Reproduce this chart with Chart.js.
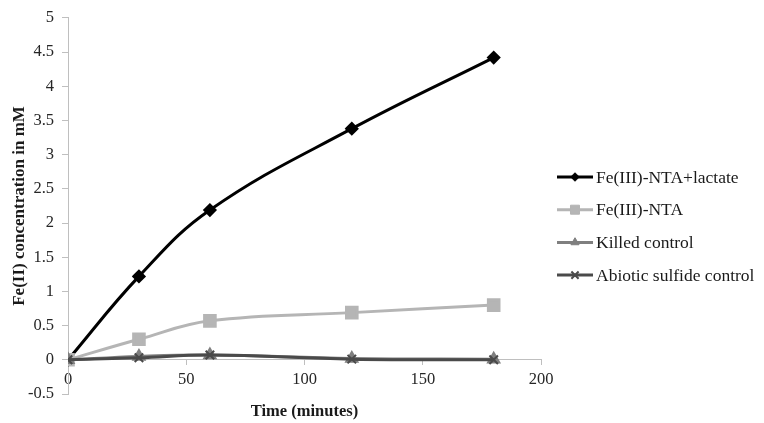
<!DOCTYPE html>
<html lang="en">
<head>
    <meta charset="UTF-8">
    <title>Fe(II) concentration over time</title>
    <script src="https://cdn.jsdelivr.net/npm/chart.js"></script>
    <style>
        body {
            margin: 0;
            padding: 0;
            background-color: #ffffff;
        }

        .chart-box {
            width: 764px;
            height: 423px;
        }
    </style>
</head>
<body>

    <div class="chart-box">
        <canvas id="ironChart"></canvas>
    </div>

    <script>
        // Sample times (minutes)
        const times = [0, 30, 60, 120, 180];

        // Fe(II) concentration in mM, per treatment
        const lactateValues = [0, 1.22, 2.19, 3.38, 4.42];
        const ntaValues = [0, 0.30, 0.57, 0.69, 0.80];
        const killedValues = [0, 0.05, 0.07, 0.02, 0.01];
        const abioticValues = [0, 0.03, 0.07, 0.01, 0];

        const seriesNames = ['Fe(III)-NTA+lactate', 'Fe(III)-NTA', 'Killed control', 'Abiotic sulfide control'];

        // Axis ticks
        const xTicks = [0, 50, 100, 150, 200];
        const yTicks = [-0.5, 0, 0.5, 1, 1.5, 2, 2.5, 3, 3.5, 4, 4.5, 5];

        const serif = '"Liberation Serif", "Times New Roman", serif';

        function toPoints(values) {
            return times.map((t, i) => ({ x: t, y: values[i] }));
        }

        // Legend drawn on the right: line + marker, like the spreadsheet legend
        const sideLegend = {
            id: 'sideLegend',
            afterDraw(chart) {
                const ctx = chart.ctx;
                const x0 = 557;
                const top = 177;
                const step = 32.7;
                ctx.save();
                chart.data.datasets.forEach((ds, i) => {
                    const y = top + i * step;
                    ctx.strokeStyle = ds.borderColor;
                    ctx.lineWidth = 3;
                    ctx.beginPath();
                    ctx.moveTo(x0, y);
                    ctx.lineTo(x0 + 36, y);
                    ctx.stroke();
                    ctx.fillStyle = ds.backgroundColor;
                    ctx.lineWidth = ds.pointBorderWidth || 1;
                    Chart.helpers.drawPoint(ctx, {
                        pointStyle: ds.pointStyle,
                        radius: ds.pointRadius * 0.85,
                        borderWidth: ds.pointBorderWidth || 1
                    }, x0 + 18, y);
                    ctx.fillStyle = '#1a1a1a';
                    ctx.font = '17.5px ' + serif;
                    ctx.textAlign = 'left';
                    ctx.textBaseline = 'middle';
                    ctx.fillText(ds.label, x0 + 39, y + 1);
                });
                ctx.restore();
            }
        };

        const ctx = document.getElementById('ironChart').getContext('2d');
        new Chart(ctx, {
            type: 'line',
            data: {
                datasets: [
                    {
                        label: seriesNames[0],
                        data: toPoints(lactateValues),
                        borderColor: '#000000',
                        backgroundColor: '#000000',
                        borderWidth: 3,
                        pointStyle: 'rectRot',
                        pointRadius: 5,
                        order: 4
                    },
                    {
                        label: seriesNames[1],
                        data: toPoints(ntaValues),
                        borderColor: '#b5b5b5',
                        backgroundColor: '#b5b5b5',
                        borderWidth: 3,
                        pointStyle: 'rect',
                        pointRadius: 7.5,
                        order: 3
                    },
                    {
                        label: seriesNames[2],
                        data: toPoints(killedValues),
                        borderColor: '#7f7f7f',
                        backgroundColor: '#7f7f7f',
                        borderWidth: 3,
                        pointStyle: 'triangle',
                        pointRadius: 5.5,
                        order: 2
                    },
                    {
                        label: seriesNames[3],
                        data: toPoints(abioticValues),
                        borderColor: '#4a4a4a',
                        backgroundColor: '#4a4a4a',
                        borderWidth: 3,
                        pointStyle: 'crossRot',
                        pointRadius: 6,
                        pointBorderWidth: 2,
                        order: 1
                    }
                ]
            },
            options: {
                responsive: true,
                maintainAspectRatio: false,
                animation: false,
                elements: {
                    line: { tension: 0.4 }
                },
                layout: {
                    padding: { top: 13, right: 223, bottom: 29, left: 9 }
                },
                scales: {
                    x: {
                        type: 'linear',
                        position: { y: 0 },
                        min: 0,
                        max: 200,
                        afterBuildTicks: scale => {
                            scale.ticks = xTicks.map(v => ({ value: v }));
                        },
                        grid: {
                            drawOnChartArea: false,
                            drawTicks: true,
                            tickLength: 5,
                            color: '#bfbfbf'
                        },
                        border: { color: '#bfbfbf' },
                        ticks: {
                            color: '#262626',
                            font: { family: serif, size: 16.5 },
                            padding: 5,
                            maxRotation: 0,
                            callback: v => String(v)
                        },
                        title: {
                            display: true,
                            text: 'Time (minutes)',
                            color: '#1a1a1a',
                            font: { family: serif, size: 16.5, weight: 'bold' },
                            padding: { top: 7, bottom: 0 }
                        }
                    },
                    y: {
                        min: -0.5,
                        max: 5,
                        afterBuildTicks: scale => {
                            scale.ticks = yTicks.map(v => ({ value: v }));
                        },
                        afterFit: scale => {
                            scale.width = 59;
                        },
                        grid: {
                            drawOnChartArea: false,
                            drawTicks: true,
                            tickLength: 6,
                            color: '#bfbfbf'
                        },
                        border: { color: '#bfbfbf' },
                        ticks: {
                            color: '#262626',
                            font: { family: serif, size: 16.5 },
                            padding: 8,
                            callback: v => String(v)
                        },
                        title: {
                            display: true,
                            text: 'Fe(II) concentration in mM',
                            color: '#1a1a1a',
                            font: { family: serif, size: 17, weight: 'bold' },
                            padding: { top: 0, bottom: 2 }
                        }
                    }
                },
                plugins: {
                    legend: { display: false },
                    tooltip: { enabled: false }
                }
            },
            plugins: [sideLegend]
        });
    </script>
</body>
</html>
